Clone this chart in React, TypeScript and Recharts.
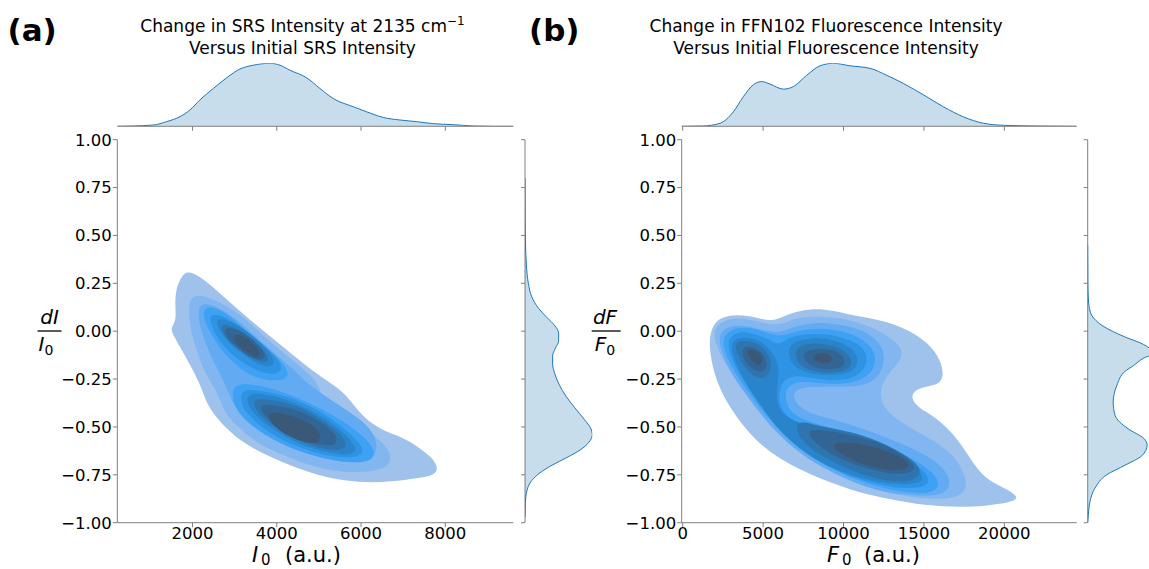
import React from 'react';
import { ScatterChart, Scatter, XAxis, YAxis, AreaChart, Area } from 'recharts';

const FONT = 'DejaVu Sans';
const AXIS = '#808080';
const KDE_LINE = '#1f77b4';
const BAND_COLORS = ['#9fc2ec', '#82b6f0', '#62abf3', '#3ea1f3', '#2d93e2', '#2a84cb', '#2e74af', '#336594', '#3a5878'];

const Y_TICKS = [-1, -0.75, -0.5, -0.25, 0, 0.25, 0.5, 0.75, 1];
const A_X_TICKS = [2000, 4000, 6000, 8000];
const B_X_TICKS = [0, 5000, 10000, 15000, 20000];
const A_X_DOMAIN = [216, 9613];
const B_X_DOMAIN = [-62, 24500];

// ---------- Panel (a): filled KDE contour bands [x, y] ----------
const aBand1 = [[1850,0.31],[2010,0.305],[2290,0.267],[2610,0.206],[3000,0.128],[3560,0.023],[4190,-0.089],[4820,-0.203],[5290,-0.272],[5610,-0.324],[5850,-0.394],[6090,-0.455],[6480,-0.516],[6960,-0.551],[7350,-0.603],[7710,-0.664],[7830,-0.716],[7750,-0.751],[7350,-0.768],[6720,-0.786],[6090,-0.791],[5450,-0.777],[4820,-0.742],[4190,-0.69],[3560,-0.629],[3000,-0.551],[2610,-0.464],[2330,-0.377],[2210,-0.29],[1970,-0.185],[1700,-0.081],[1500,-0.003],[1500,0.023],[1620,0.058],[1580,0.146],[1620,0.232],[1740,0.285]];
const aBand2 = [[2050,0.19],[2370,0.18],[2760,0.14],[3240,0.07],[3710,-0.03],[4190,-0.12],[4660,-0.2],[4980,-0.27],[5060,-0.34],[5370,-0.41],[5930,-0.48],[6480,-0.57],[6720,-0.64],[6680,-0.7],[6400,-0.73],[5770,-0.74],[4980,-0.72],[4190,-0.65],[3550,-0.59],[3080,-0.5],[2760,-0.43],[2600,-0.32],[2290,-0.22],[2130,-0.12],[1970,-0.01],[1910,0.09],[1930,0.16]];
const aBand3 = [[2210,0.15],[2600,0.13],[3080,0.06],[3550,-0.04],[4030,-0.13],[4350,-0.19],[4580,-0.24],[4820,-0.29],[5290,-0.36],[5930,-0.45],[6320,-0.53],[6400,-0.62],[6240,-0.67],[5770,-0.69],[4980,-0.66],[4190,-0.6],[3550,-0.52],[3160,-0.45],[2920,-0.36],[2760,-0.27],[2600,-0.2],[2370,-0.1],[2170,0.02],[2130,0.11]];
const aBand4Upper = [[2290,0.13],[2600,0.12],[3000,0.06],[3480,-0.04],[3950,-0.12],[4270,-0.2],[4270,-0.25],[3950,-0.26],[3550,-0.25],[3080,-0.19],[2680,-0.1],[2370,0.01],[2250,0.08]];
const aBand5Upper = [[2450,0.09],[2760,0.08],[3160,0.02],[3630,-0.06],[4030,-0.14],[4150,-0.2],[3950,-0.23],[3550,-0.21],[3080,-0.15],[2680,-0.07],[2490,0.01],[2410,0.06]];
const aBand6Upper = [[2600,0.07],[2920,0.05],[3320,0.0],[3710,-0.08],[3950,-0.14],[3910,-0.19],[3630,-0.18],[3240,-0.13],[2840,-0.06],[2650,0.0],[2570,0.04]];
const aBand7Upper = [[2720,0.04],[3000,0.02],[3360,-0.03],[3710,-0.1],[3830,-0.15],[3710,-0.17],[3400,-0.14],[3000,-0.08],[2760,-0.03],[2680,0.02]];
const aBand8Upper = [[2800,0.02],[3120,0.01],[3480,-0.05],[3750,-0.12],[3710,-0.15],[3440,-0.15],[3080,-0.09],[2840,-0.04],[2760,0.0]];
const aBand9Upper = [[3000,-0.01],[3240,-0.03],[3480,-0.07],[3630,-0.12],[3550,-0.14],[3360,-0.12],[3120,-0.08],[2960,-0.05]];
const aBand4Lower = [[3000,-0.27],[3550,-0.28],[4190,-0.32],[4820,-0.38],[5450,-0.45],[6090,-0.55],[6360,-0.63],[6240,-0.68],[5770,-0.69],[4980,-0.66],[4190,-0.6],[3550,-0.52],[3080,-0.43],[2920,-0.34]];
const aBand5Lower = [[3160,-0.3],[3630,-0.31],[4270,-0.34],[4900,-0.4],[5450,-0.48],[5930,-0.57],[6090,-0.63],[5890,-0.66],[5370,-0.66],[4660,-0.62],[3950,-0.55],[3400,-0.46],[3120,-0.38]];
const aBand6Lower = [[3320,-0.32],[3790,-0.33],[4420,-0.37],[4980,-0.43],[5490,-0.51],[5850,-0.59],[5890,-0.63],[5650,-0.65],[5140,-0.63],[4500,-0.59],[3870,-0.51],[3440,-0.43],[3280,-0.37]];
const aBand7Lower = [[3480,-0.35],[3950,-0.36],[4540,-0.39],[5060,-0.46],[5490,-0.53],[5690,-0.59],[5570,-0.62],[5140,-0.62],[4580,-0.58],[3990,-0.51],[3550,-0.43],[3440,-0.38]];
const aBand8Lower = [[3630,-0.38],[4070,-0.39],[4620,-0.42],[5100,-0.48],[5410,-0.54],[5450,-0.59],[5220,-0.6],[4740,-0.58],[4190,-0.52],[3750,-0.45],[3620,-0.41]];
const aBand9Lower = [[3830,-0.42],[4190,-0.43],[4620,-0.46],[4980,-0.51],[5060,-0.56],[4940,-0.59],[4620,-0.58],[4190,-0.54],[3910,-0.49],[3790,-0.45]];

// ---------- Panel (b): filled KDE contour bands [x, y] ----------
const bBand1 = [[1760,0.01],[2200,0.07],[3380,0.09],[4680,0.07],[5490,0.05],[6300,0.08],[7360,0.11],[8790,0.12],[10650,0.08],[12330,0.06],[14010,0.01],[15260,-0.06],[16060,-0.15],[16250,-0.24],[15880,-0.28],[15070,-0.29],[14380,-0.31],[14200,-0.35],[14630,-0.4],[15750,-0.45],[16620,-0.52],[17310,-0.59],[17990,-0.68],[18800,-0.77],[20040,-0.82],[20850,-0.86],[20670,-0.89],[19110,-0.91],[17250,-0.92],[15070,-0.91],[12890,-0.88],[10400,-0.83],[7920,-0.75],[6050,-0.67],[4500,-0.57],[3250,-0.44],[2320,-0.31],[1820,-0.18],[1640,-0.07]];
const bBand2 = [[1970,0.02],[2590,0.06],[3830,0.07],[5080,0.04],[6110,0.03],[6940,0.07],[8600,0.08],[10470,0.06],[12130,0.01],[13370,-0.06],[13780,-0.12],[13160,-0.19],[12440,-0.26],[12230,-0.34],[12640,-0.42],[13990,-0.5],[15650,-0.57],[16890,-0.65],[17510,-0.74],[17720,-0.82],[17100,-0.87],[15650,-0.88],[13580,-0.86],[11500,-0.82],[9430,-0.74],[7560,-0.65],[5910,-0.53],[4460,-0.39],[3210,-0.25],[2380,-0.13],[1970,-0.05]];
const bBand3 = [[2280,-0.01],[2900,0.03],[4040,0.03],[5180,0.0],[6110,-0.01],[7050,0.03],[8600,0.05],[10260,0.03],[11610,-0.01],[12440,-0.08],[12580,-0.16],[12130,-0.25],[11090,-0.29],[9430,-0.29],[7980,-0.29],[7050,-0.3],[6840,-0.34],[7150,-0.39],[8190,-0.44],[9840,-0.47],[11920,-0.53],[13990,-0.6],[15650,-0.67],[16480,-0.74],[16690,-0.81],[16060,-0.86],[14410,-0.86],[12330,-0.84],[10260,-0.78],[8190,-0.69],[6530,-0.59],[5080,-0.46],[3830,-0.32],[2800,-0.19],[2280,-0.08]];
const bHole = [[7670,-0.34],[8290,-0.34],[8810,-0.36],[8970,-0.38],[8600,-0.4],[8020,-0.39],[7610,-0.37]];
const bBand4 = [[2590,-0.02],[3210,0.02],[4250,0.02],[5280,-0.01],[6110,-0.03],[6940,0.0],[8600,0.02],[10050,0.0],[11190,-0.04],[11920,-0.1],[12020,-0.17],[11610,-0.23],[10670,-0.27],[9220,-0.28],[7770,-0.26],[6740,-0.27],[6320,-0.32],[6530,-0.41],[7360,-0.46],[9020,-0.5],[11090,-0.55],[13160,-0.62],[14820,-0.69],[15860,-0.76],[15960,-0.82],[15230,-0.85],[13580,-0.84],[11500,-0.8],[9430,-0.73],[7560,-0.64],[6110,-0.53],[4870,-0.41],[3630,-0.27],[2800,-0.15],[2490,-0.07]];
const bBand5 = [[2900,-0.03],[3520,0.0],[4350,-0.01],[5280,-0.04],[5910,-0.07],[6110,-0.06],[6940,-0.02],[8600,-0.01],[9840,-0.03],[10880,-0.06],[11500,-0.12],[11400,-0.19],[10670,-0.25],[9220,-0.26],[7770,-0.24],[6740,-0.23],[6110,-0.27],[5910,-0.36],[6320,-0.44],[7360,-0.49],[9220,-0.53],[11500,-0.59],[13580,-0.66],[15030,-0.72],[15440,-0.79],[14820,-0.82],[13160,-0.82],[11090,-0.78],[9020,-0.71],[7360,-0.62],[6010,-0.52],[4870,-0.39],[3830,-0.27],[3110,-0.16],[2800,-0.08]];
const bBand6Main = [[3210,-0.04],[4040,-0.03],[4870,-0.05],[5700,-0.12],[6010,-0.19],[5910,-0.27],[5800,-0.36],[6110,-0.43],[7150,-0.48],[9020,-0.52],[11300,-0.58],[13370,-0.65],[14720,-0.72],[15030,-0.78],[14410,-0.8],[12750,-0.8],[10670,-0.76],[8600,-0.69],[7050,-0.6],[5800,-0.5],[4770,-0.38],[3830,-0.26],[3210,-0.15],[3000,-0.08]];
const bBand6Upper = [[6940,-0.05],[8390,-0.03],[9640,-0.05],[10570,-0.09],[10990,-0.15],[10670,-0.21],[9640,-0.23],[8190,-0.23],[7150,-0.2],[6630,-0.15],[6570,-0.09]];
const bBand7Left = [[3420,-0.05],[4250,-0.05],[4970,-0.08],[5490,-0.14],[5490,-0.21],[5080,-0.25],[4460,-0.24],[3830,-0.19],[3420,-0.12],[3250,-0.08]];
const bBand7Upper = [[7250,-0.07],[8500,-0.06],[9640,-0.08],[10360,-0.12],[10570,-0.17],[10160,-0.21],[9120,-0.22],[8080,-0.21],[7250,-0.18],[6940,-0.12]];
const bBand7Lower = [[7150,-0.46],[8600,-0.5],[10260,-0.52],[12130,-0.57],[13780,-0.64],[14820,-0.71],[14720,-0.76],[13990,-0.79],[12330,-0.78],[10470,-0.73],[8810,-0.66],[7560,-0.59],[7050,-0.52]];
const bBand8Left = [[3730,-0.08],[4350,-0.08],[4970,-0.11],[5280,-0.17],[5080,-0.21],[4560,-0.21],[4040,-0.18],[3690,-0.13]];
const bBand8Upper = [[7670,-0.1],[8600,-0.09],[9530,-0.1],[10090,-0.14],[10090,-0.18],[9530,-0.2],[8500,-0.2],[7730,-0.17],[7460,-0.13]];
const bBand8Lower = [[7770,-0.51],[9220,-0.52],[10880,-0.55],[12540,-0.59],[13990,-0.66],[14510,-0.71],[14200,-0.74],[13160,-0.75],[11500,-0.72],[9840,-0.67],[8600,-0.61],[7880,-0.55]];
const bBand9Left = [[4040,-0.09],[4560,-0.1],[4970,-0.13],[4970,-0.17],[4660,-0.18],[4250,-0.15],[4000,-0.12]];
const bBand9Upper = [[8190,-0.12],[8810,-0.11],[9330,-0.13],[9260,-0.16],[8810,-0.17],[8290,-0.16],[8080,-0.14]];
const bBand9Lower = [[9330,-0.58],[10670,-0.58],[12130,-0.61],[13470,-0.65],[14090,-0.69],[13990,-0.72],[13160,-0.73],[11710,-0.71],[10260,-0.66],[9430,-0.62]];

// ---------- Marginal densities ----------
// top marginals: [x, density]
const aTopDensity = [[216,0],[596,0.005],[1071,0.02],[1387,0.074],[1703,0.153],[1941,0.26],[2178,0.42],[2494,0.6],[2811,0.77],[3127,0.91],[3444,0.97],[3839,1.0],[4076,0.97],[4314,0.89],[4709,0.77],[5026,0.6],[5342,0.44],[5817,0.31],[6133,0.23],[6529,0.14],[6924,0.1],[7320,0.074],[7715,0.042],[8190,0.026],[8664,0.005],[9139,0.0],[9613,0]];
const bTopDensity = [[-62,0],[1283,0.005],[2320,0.048],[3149,0.23],[3771,0.47],[4393,0.66],[4911,0.71],[5429,0.67],[6258,0.59],[6880,0.63],[7709,0.81],[8539,0.96],[9368,1.0],[10404,0.96],[11648,0.92],[12685,0.81],[13721,0.68],[14965,0.5],[16209,0.31],[17454,0.15],[18698,0.048],[19940,0.016],[22013,0.005],[24500,0]];
// right marginals: [y, density]
const aRightDensity = [[0.8,0],[0.6,0.002],[0.45,0.008],[0.35,0.02],[0.25,0.05],[0.18,0.1],[0.12,0.2],[0.07,0.33],[0.03,0.44],[-0.01,0.5],[-0.05,0.5],[-0.09,0.45],[-0.13,0.41],[-0.17,0.41],[-0.22,0.44],[-0.28,0.51],[-0.34,0.61],[-0.4,0.74],[-0.46,0.88],[-0.51,0.98],[-0.54,1.0],[-0.58,0.95],[-0.62,0.82],[-0.66,0.62],[-0.7,0.4],[-0.74,0.22],[-0.78,0.1],[-0.83,0.03],[-0.9,0.005],[-0.97,0]];
const bRightDensity = [[0.45,0],[0.25,0.003],[0.17,0.01],[0.1,0.04],[0.03,0.22],[-0.03,0.57],[-0.065,0.83],[-0.1,0.97],[-0.12,0.98],[-0.14,0.86],[-0.18,0.7],[-0.21,0.57],[-0.28,0.45],[-0.37,0.39],[-0.44,0.42],[-0.51,0.62],[-0.56,0.86],[-0.595,0.91],[-0.65,0.83],[-0.7,0.57],[-0.75,0.29],[-0.82,0.11],[-0.89,0.035],[-0.98,0.005],[-1.0,0]];

const aLayers = [
  { pts: aBand1, level: 0 }, { pts: aBand2, level: 1 }, { pts: aBand3, level: 2 },
  { pts: aBand4Upper, level: 3 }, { pts: aBand4Lower, level: 3 },
  { pts: aBand5Upper, level: 4 }, { pts: aBand5Lower, level: 4 },
  { pts: aBand6Upper, level: 5 }, { pts: aBand6Lower, level: 5 },
  { pts: aBand7Upper, level: 6 }, { pts: aBand7Lower, level: 6 },
  { pts: aBand8Upper, level: 7 }, { pts: aBand8Lower, level: 7 },
  { pts: aBand9Upper, level: 8 }, { pts: aBand9Lower, level: 8 },
];
const bLayers = [
  { pts: bBand1, level: 0 }, { pts: bBand2, level: 1 }, { pts: bBand3, level: 2 }, { pts: bHole, level: 1 },
  { pts: bBand4, level: 3 }, { pts: bBand5, level: 4 },
  { pts: bBand6Main, level: 5 }, { pts: bBand6Upper, level: 5 },
  { pts: bBand7Left, level: 6 }, { pts: bBand7Upper, level: 6 }, { pts: bBand7Lower, level: 6 },
  { pts: bBand8Left, level: 7 }, { pts: bBand8Upper, level: 7 }, { pts: bBand8Lower, level: 7 },
  { pts: bBand9Left, level: 8 }, { pts: bBand9Upper, level: 8 }, { pts: bBand9Lower, level: 8 },
];

const xy = (arr: number[][]) => arr.map(([x, y]) => ({ x, y }));
const dx = (arr: number[][]) => arr.map(([x, d]) => ({ x, d }));
const yd = (arr: number[][]) => arr.map(([y, d]) => ({ x: d, y }));

const NoShape = () => null;
const NoTick = () => <g />;
const fmtY = (v: number) => (v < 0 ? '\u2212' : '') + Math.abs(v).toFixed(2);
const tickStyle = { fill: '#000', fontSize: 16.5, fontFamily: FONT };

function ContourChart({ left, width, yAxisWidth, rightMargin, xDomain, xTicks, layers }: any) {
  return (
    <div style={{ position: 'absolute', left, top: 0 }}>
      <ScatterChart width={width} height={569} margin={{ top: 139.7, right: rightMargin, bottom: 0, left: 0 }}>
        <XAxis type="number" dataKey="x" domain={xDomain} ticks={xTicks} allowDataOverflow interval={0}
          height={46.3} tickSize={4.5} tickMargin={0} axisLine={{ stroke: AXIS }} tickLine={{ stroke: AXIS }} tick={tickStyle} />
        <YAxis type="number" dataKey="y" domain={[-1, 1]} ticks={Y_TICKS} allowDataOverflow interval={0}
          width={yAxisWidth} tickSize={4.5} tickMargin={1} tickFormatter={fmtY}
          axisLine={{ stroke: AXIS }} tickLine={{ stroke: AXIS }} tick={tickStyle} />
        {layers.map((l: any, i: number) => (
          <Scatter key={i} data={xy(l.pts)} fill={BAND_COLORS[l.level]} isAnimationActive={false}
            shape={NoShape} line={{ fill: BAND_COLORS[l.level], stroke: 'none' }}
            lineType="joint" lineJointType="basisClosed" />
        ))}
      </ScatterChart>
    </div>
  );
}

function TopMarginal({ left, width, marginLeft, marginRight, xDomain, xTicks, data }: any) {
  return (
    <div style={{ position: 'absolute', left, top: 0 }}>
      <AreaChart width={width} height={140} data={dx(data)} margin={{ top: 63.3, right: marginRight, bottom: 3.7, left: marginLeft }}>
        <XAxis type="number" dataKey="x" domain={xDomain} ticks={xTicks} allowDataOverflow interval={0}
          height={10} tickSize={4.5} tick={NoTick} axisLine={{ stroke: AXIS }} tickLine={{ stroke: AXIS }} />
        <YAxis hide type="number" domain={[0, 1]} allowDataOverflow />
        <Area type="monotone" dataKey="d" stroke={KDE_LINE} strokeWidth={1} fill={KDE_LINE} fillOpacity={0.25}
          isAnimationActive={false} dot={false} activeDot={false} />
      </AreaChart>
    </div>
  );
}

function RightMarginal({ left, width, yAxisWidth, rightMargin, data }: any) {
  return (
    <div style={{ position: 'absolute', left, top: 0 }}>
      <ScatterChart width={width} height={569} margin={{ top: 139.7, right: rightMargin, bottom: 46.3, left: 0 }}>
        <XAxis type="number" dataKey="x" hide domain={[0, 1]} allowDataOverflow />
        <YAxis type="number" dataKey="y" domain={[-1, 1]} ticks={Y_TICKS} allowDataOverflow interval={0}
          width={yAxisWidth} tickSize={4} tick={NoTick} axisLine={{ stroke: AXIS }} tickLine={{ stroke: AXIS }} />
        <Scatter data={yd(data)} fill={KDE_LINE} isAnimationActive={false} shape={NoShape}
          line={{ fill: KDE_LINE, fillOpacity: 0.25, stroke: KDE_LINE, strokeWidth: 1 }}
          lineType="joint" lineJointType="monotoneY" />
      </ScatterChart>
    </div>
  );
}

export default function App() {
  return (
    <div style={{ position: 'absolute', left: 0, top: 0, width: 1149, height: 569, overflow: 'hidden', background: '#fff' }}>
      <TopMarginal left={0} width={530} marginLeft={117.3} marginRight={16.7} xDomain={A_X_DOMAIN} xTicks={A_X_TICKS} data={aTopDensity} />
      <ContourChart left={0} width={530} yAxisWidth={117.3} rightMargin={16.7} xDomain={A_X_DOMAIN} xTicks={A_X_TICKS} layers={aLayers} />
      <RightMarginal left={500} width={120} yAxisWidth={25} rightMargin={27.7} data={aRightDensity} />

      <TopMarginal left={560} width={530} marginLeft={121.7} marginRight={13.3} xDomain={B_X_DOMAIN} xTicks={B_X_TICKS} data={bTopDensity} />
      <ContourChart left={560} width={530} yAxisWidth={121.7} rightMargin={13.3} xDomain={B_X_DOMAIN} xTicks={B_X_TICKS} layers={bLayers} />
      <RightMarginal left={1060} width={100} yAxisWidth={27.7} rightMargin={7} data={bRightDensity} />

      <svg width={1149} height={569} style={{ position: 'absolute', left: 0, top: 0, pointerEvents: 'none' }} fontFamily={FONT}>
        <text x={7.5} y={41} fontSize={31} fontWeight="bold">(a)</text>
        <text x={529} y={41} fontSize={31} fontWeight="bold">(b)</text>

        <text x={302.5} y={31.5} fontSize={17} textAnchor="middle">Change in SRS Intensity at 2135 cm<tspan dy={-7} fontSize={12}>{'\u22121'}</tspan></text>
        <text x={302.5} y={53.5} fontSize={17} textAnchor="middle">Versus Initial SRS Intensity</text>
        <text x={826} y={31.5} fontSize={17} textAnchor="middle">Change in FFN102 Fluorescence Intensity</text>
        <text x={826} y={53.5} fontSize={17} textAnchor="middle">Versus Initial Fluorescence Intensity</text>

        <text y={562} fontSize={21}>
          <tspan x={252} fontStyle="italic">I</tspan>
          <tspan x={261} dy={3} fontSize={15}>0</tspan>
          <tspan x={285} dy={-3}>(a.u.)</tspan>
        </text>
        <text y={562} fontSize={21}>
          <tspan x={827} fontStyle="italic">F</tspan>
          <tspan x={842} dy={3} fontSize={15}>0</tspan>
          <tspan x={864} dy={-3}>(a.u.)</tspan>
        </text>

        <text x={49.5} y={323.5} fontSize={20} fontStyle="italic" textAnchor="middle">dI</text>
        <line x1={37.5} x2={61.5} y1={331} y2={331} stroke="#000" strokeWidth={1.3} />
        <text x={46} y={351.3} fontSize={20} fontStyle="italic" textAnchor="middle">I<tspan dy={4} fontSize={14} fontStyle="normal">0</tspan></text>

        <text x={605} y={323.5} fontSize={20} fontStyle="italic" textAnchor="middle">dF</text>
        <line x1={591.7} x2={620.7} y1={331} y2={331} stroke="#000" strokeWidth={1.3} />
        <text x={605} y={351.3} fontSize={20} fontStyle="italic" textAnchor="middle">F<tspan dy={4} fontSize={14} fontStyle="normal">0</tspan></text>
      </svg>
    </div>
  );
}
